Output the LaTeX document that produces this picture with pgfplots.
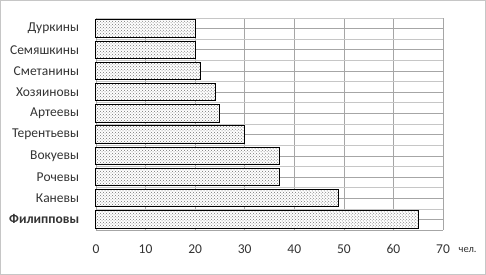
\documentclass[border=0pt]{standalone}
\usepackage{pgfplots}
\pgfplotsset{compat=1.18}
\usepackage{fontspec}
\setmainfont{Carlito}
\usetikzlibrary{patterns}
\begin{document}
\begin{tikzpicture}
\draw[gray!45, line width=0.8pt] (0.5pt,0.5pt) rectangle (485.5pt,274.5pt);
\begin{axis}[at={(96pt,45pt)}, anchor=south west, scale only axis,
  width=347pt, height=212pt,
  xbar, bar width=17.5pt,
  xmin=0, xmax=70, ymin=-0.5, ymax=9.5,
  xtick={0,10,...,70}, ytick={0,...,9},
  minor ytick={-0.5,0.5,...,9.5},
  yticklabels={\textbf{Филипповы},Каневы,Рочевы,Вокуевы,Терентьевы,Артеевы,Хозяиновы,Сметанины,Семяшкины,Дуркины},
  xmajorgrids, ymajorgrids, yminorgrids,
  major grid style={gray!70, line width=0.5pt},
  minor grid style={gray!45, line width=0.5pt},
  axis line style={draw=gray!70},
  axis x line*=bottom, axis y line*=left,
  tick style={draw=none},
  every tick label/.append style={font=\fontsize{13.5}{15}\selectfont, text=black!80},
  xticklabel style={yshift=-11pt},
  yticklabel style={xshift=-9pt},
  /pgf/number format/assume math mode=true,
  clip=false,
]
\addplot[draw=black, line width=0.9pt, preaction={fill=white}, pattern=crosshatch dots, pattern color=black!55]
  coordinates {(65,0) (49,1) (37,2) (37,3) (30,4) (25,5) (24,6) (21,7) (20,8) (20,9)};
\node[anchor=west, font=\fontsize{10.5}{12}\selectfont, text=black!80] at (rel axis cs:1,0) [yshift=-20pt, xshift=12pt] {чел.};
\end{axis}
\end{tikzpicture}
\end{document}
